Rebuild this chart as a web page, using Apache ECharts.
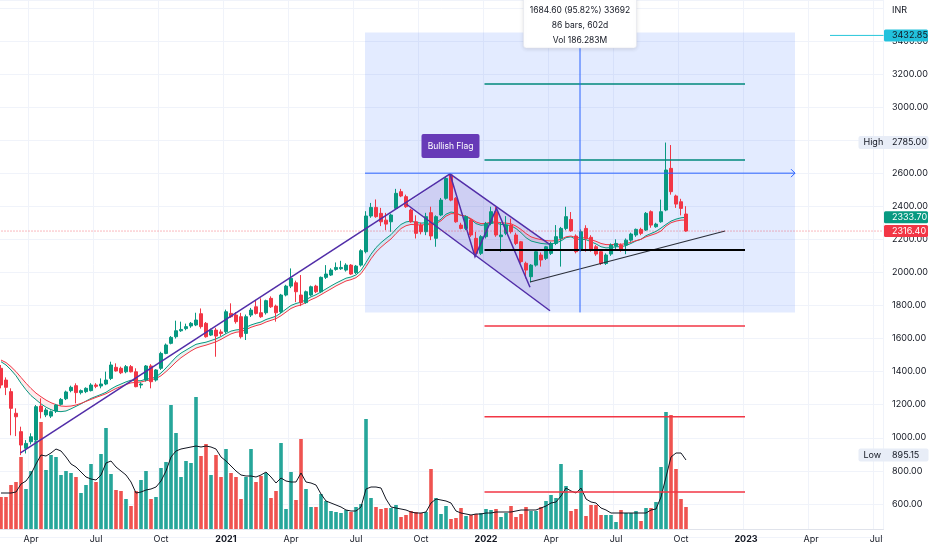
<!DOCTYPE html>
<html><head><meta charset="utf-8">
<script src="https://cdn.jsdelivr.net/npm/echarts@6/dist/echarts.min.js"></script>
<style>html,body{margin:0;padding:0;background:#ffffff}#c{width:932px;height:550px}</style>
</head><body><div id="c"></div>
<script>
// ---------- data ----------
const firstWeek = '2020-02-24';
const weekCount = 177;
const xTickIndex = [6,19,32,45,58,71,84,97,110,123,136,149,162,175];
const xTickLabels = ['Apr','Jul','Oct','2021','Apr','Jul','Oct','2022','Apr','Jul','Oct','2023','Apr','Jul'];

const opens = [1420,1349,1279,1148,1037,936,976,986,1192,1138,
 1131,1162,1202,1236,1285,1315,1273,1279,1285,1319,
 1313,1325,1359,1426,1420,1399,1430,1399,1319,1349,
 1434,1349,1420,1510,1571,1611,1647,1660,1676,1682,
 1750,1692,1621,1651,1640,1641,1752,1742,1732,1631,
 1742,1792,1756,1756,1843,1796,1762,1863,1917,1937,
 1863,1817,1863,1917,1883,1970,1984,2018,2022,2014,
 2044,1998,2044,2125,2341,2393,2357,2316,2306,2387,
 2488,2458,2377,2306,2286,2246,2361,2206,2347,2448,
 2589,2448,2286,2266,2317,2206,2115,2216,2296,2367,
 2216,2236,2286,2226,2185,2055,1974,2044,2105,2085,
 2115,2175,2206,2266,2320,2220,2135,2266,2212,2155,
 2125,2054,2111,2159,2165,2165,2195,2226,2260,2256,
 2367,2276,2306,2377,2629,2462,2427,2353];
const highs = [1440,1365,1299,1178,1067,986,1027,1198,1238,1180,
 1165,1205,1240,1285,1315,1329,1292,1305,1330,1330,
 1359,1400,1460,1450,1430,1440,1440,1420,1335,1440,
 1445,1415,1520,1570,1615,1708,1702,1690,1700,1756,
 1782,1700,1660,1665,1655,1775,1813,1760,1755,1745,
 1785,1833,1843,1835,1855,1805,1870,1925,2024,1950,
 1984,1890,1920,1925,1975,2044,2025,2060,2070,2055,
 2050,2045,2140,2370,2420,2441,2390,2360,2355,2505,
 2505,2470,2385,2345,2300,2360,2397,2345,2450,2580,
 2595,2455,2300,2345,2325,2245,2225,2305,2397,2397,
 2305,2340,2325,2240,2190,2065,2050,2135,2120,2160,
 2185,2286,2275,2397,2365,2230,2260,2285,2225,2165,
 2135,2115,2175,2200,2175,2205,2240,2265,2270,2365,
 2375,2300,2440,2785,2770,2470,2445,2400];
const lows = [1299,1258,1015,1010,895.15,905,960,976,1117,1125,
 1120,1150,1195,1228,1275,1208,1262,1270,1280,1300,
 1299,1318,1349,1400,1385,1390,1395,1305,1299,1340,
 1299,1340,1410,1505,1565,1600,1640,1650,1665,1675,
 1660,1605,1615,1490,1615,1630,1725,1690,1600,1591,
 1730,1745,1725,1745,1785,1702,1752,1855,1905,1820,
 1796,1810,1855,1875,1875,1960,1978,2010,2015,2005,
 1985,1990,2035,2115,2330,2330,2280,2255,2245,2380,
 2455,2390,2300,2205,2230,2225,2195,2155,2340,2440,
 2430,2300,2260,2255,2215,2095,2105,2205,2285,2215,
 2125,2225,2235,2165,2055,1964,1940,2035,2035,2075,
 2105,2165,2035,2255,2245,2115,2125,2125,2125,2100,
 2045,2045,2100,2135,2125,2110,2185,2215,2225,2250,
 2270,2270,2300,2370,2470,2390,2345,2246];
const closes = [1319,1305,1178,1127,956,966,1006,1188,1158,1168,
 1158,1198,1232,1277,1305,1273,1285,1299,1319,1311,
 1325,1349,1440,1404,1393,1430,1399,1309,1325,1434,
 1339,1410,1510,1561,1607,1647,1655,1672,1692,1712,
 1672,1611,1651,1615,1630,1762,1732,1702,1611,1732,
 1772,1752,1732,1829,1792,1756,1863,1917,1964,1883,
 1817,1883,1913,1883,1970,1990,2014,2030,2030,2044,
 1990,2038,2131,2341,2393,2337,2306,2292,2347,2478,
 2462,2397,2306,2236,2246,2337,2220,2337,2437,2568,
 2437,2306,2266,2337,2226,2115,2216,2296,2367,2226,
 2226,2286,2246,2175,2065,2014,2044,2125,2075,2155,
 2175,2216,2266,2337,2252,2125,2246,2206,2135,2111,
 2054,2105,2165,2175,2139,2195,2232,2260,2236,2357,
 2286,2292,2367,2619,2488,2413,2387,2250];
const volumes = [32,32,44,47,72,40,58,88,107,59,
 74,72,54,58,56,52,36,44,65,47,
 75,101,55,39,38,30,23,38,49,58,
 30,32,61,67,124,96,52,68,66,132,
 73,85,54,74,52,80,56,52,30,52,
 80,47,53,56,31,38,86,20,57,29,
 90,40,22,22,35,28,18,17,16,19,
 17,22,25,110,31,22,20,21,21,24,
 12,14,18,17,16,17,60,31,15,23,
 10,11,21,13,14,15,16,20,19,20,
 12,16,23,12,15,22,18,18,22,28,
 34,31,65,43,18,20,59,13,24,24,
 14,14,14,7,19,16,16,18,8,21,
 21,27,62,117,114,60,30,22];
const volumeMA = [36,36,36,37,45,48,55,65,74,73,
 76,80,78,72,65,62,57,52,50,49,
 54,66,68,62,58,54,47,36,37,39,
 40,42,48,58,72,78,80,81,82,83,
 82,83,82,80,72,68,63,58,54,53,
 53,52,54,57,52,46,51,48,47,47,
 56,47,46,44,35,28,26,24,22,19,
 18,18,22,40,42,42,41,30,22,21,
 20,19,17,16,16,17,26,30,29,28,
 26,18,16,15,14,15,15,16,16,17,
 17,17,17,18,19,19,19,19,21,23,
 26,27,33,41,38,36,41,30,27,26,
 21,19,16,16,16,16,16,16,16,16,
 19,20,32,52,72,76,76,69];
const maFast = [1460,1440,1410,1375,1330,1290,1255,1230,1205,1185,
 1170,1160,1158,1162,1175,1190,1205,1222,1238,1250,
 1262,1275,1295,1312,1325,1338,1348,1345,1345,1355,
 1358,1368,1392,1422,1455,1488,1512,1530,1548,1565,
 1572,1578,1588,1598,1612,1630,1645,1652,1655,1668,
 1682,1692,1700,1715,1725,1735,1755,1778,1800,1812,
 1820,1835,1852,1865,1882,1900,1918,1935,1950,1965,
 1972,1985,2012,2060,2110,2150,2180,2205,2228,2262,
 2290,2305,2310,2302,2298,2300,2295,2302,2322,2352,
 2365,2360,2345,2338,2320,2295,2285,2288,2300,2298,
 2290,2288,2282,2265,2240,2210,2190,2182,2175,2172,
 2172,2178,2190,2210,2215,2200,2200,2198,2185,2172,
 2155,2148,2150,2155,2155,2162,2175,2190,2200,2222,
 2235,2248,2268,2290,2310,2322,2330,2333.7];
const maSlow = [1470,1455,1430,1400,1365,1330,1298,1270,1248,1228,
 1212,1200,1192,1190,1192,1198,1208,1220,1232,1244,
 1255,1266,1282,1298,1310,1322,1332,1335,1337,1345,
 1350,1358,1375,1400,1428,1458,1484,1505,1525,1542,
 1552,1560,1570,1580,1595,1612,1628,1638,1642,1654,
 1668,1678,1686,1700,1710,1720,1738,1760,1782,1795,
 1803,1818,1835,1848,1865,1883,1900,1918,1933,1948,
 1956,1968,1992,2035,2082,2122,2152,2178,2202,2235,
 2265,2282,2290,2288,2286,2290,2288,2295,2312,2340,
 2355,2355,2345,2340,2325,2305,2295,2296,2305,2305,
 2300,2298,2294,2280,2260,2235,2215,2205,2198,2192,
 2190,2192,2200,2215,2220,2210,2210,2208,2198,2188,
 2175,2168,2168,2170,2170,2174,2182,2192,2200,2215,
 2225,2235,2250,2280,2300,2310,2316,2316.4];

// drawings (x in week index, y in price)
const measureBox = [72.8, 1758, 158.8, 3450];
const crossX = 115.8, crossY = 2600;
const measureText = ['1684.60 (95.82%) 33692', '86 bars, 602d', 'Vol 186.283M'];
const flagPole = [[3.9, 908], [89.8, 2595]];
const flagUpper = [[89.8, 2595], [109.8, 2168]];
const flagLower = [[81.1, 2412], [109.8, 1768]];
const flagFill = [[81.1, 2412], [89.8, 2595], [109.8, 2168], [109.8, 1768]];
const flagZigzag = [[89.8, 2595], [94.8, 2095], [99.1, 2387], [105.8, 1910]];
const supportLine = [[105.8, 1942], [144.8, 2250]];
const levelStart = 96.7, levelEnd = 148.8;
const tealLevels = [3139, 2680];
const blackLevel = 2135;
const redLevels = [1676, 1127, 672];
const flagLabel = {x: 89.9, y: 2764, text: 'Bullish Flag'};
const cyanLevel = {x: 165.8, y: 3432.85, text: '3432.85'};
const highTag = {y: 2785, text: '2785.00'};
const lowTag = {y: 895.15, text: '895.15'};
const fastTag = '2333.70';
const slowTag = '2316.40';
const currency = 'INR';

// ---------- build ----------
const cats = [];
const d0 = new Date(firstWeek + 'T00:00:00Z');
for (let i = 0; i < weekCount; i++) cats.push(new Date(d0.getTime() + i * 7 * 86400000).toISOString().slice(0, 10));
const candleData = opens.map((o, i) => [o, closes[i], lows[i], highs[i]]);
const UP = '#089981', DOWN = '#f23645', VUP = '#26a69a', VDOWN = '#ef5350';
const volData = volumes.map((v, i) => ({value: v, itemStyle: {color: closes[i] >= opens[i] ? VUP : VDOWN}}));
const lastClose = closes[closes.length - 1];
const FONT = 'Inter, Roboto, sans-serif';
const TXT = '#131722';
const FS = 9;
const X_MIN = -0.5, X_MAX = weekCount - 0.5;

function bgRender(params, api) {
  const a = api.coord([measureBox[0], measureBox[3]]);
  const b = api.coord([measureBox[2], measureBox[1]]);
  const ch = [
    {type: 'rect', shape: {x: a[0], y: a[1], width: b[0] - a[0], height: b[1] - a[1]}, style: {fill: 'rgba(41,98,255,0.13)'}},
    {type: 'polygon', shape: {points: flagFill.map(p => api.coord(p))}, style: {fill: 'rgba(81,45,168,0.14)'}}
  ];
  // fill between the two moving averages
  for (let i = 0; i < maFast.length - 1; i++) {
    const pts = [api.coord([i, maFast[i]]), api.coord([i + 1, maFast[i + 1]]), api.coord([i + 1, maSlow[i + 1]]), api.coord([i, maSlow[i]])];
    const down = maSlow[i] + maSlow[i + 1] > maFast[i] + maFast[i + 1];
    ch.push({type: 'polygon', shape: {points: pts}, style: {fill: down ? 'rgba(242,54,69,0.10)' : 'rgba(8,153,129,0.10)'}});
  }
  return {type: 'group', children: ch};
}

function seg(api, p, q, stroke, lw, dash) {
  const a = api.coord(p), b = api.coord(q);
  return {type: 'line', shape: {x1: a[0], y1: a[1], x2: b[0], y2: b[1]}, style: {stroke: stroke, lineWidth: lw, lineDash: dash || null}};
}
function tag(x, y, w, text, bg, fg) {
  return [{type: 'rect', shape: {x: x, y: y - 6, width: w, height: 12, r: 1.5}, style: {fill: bg}},
    {type: 'text', style: {text: text, x: x + 8, y: y, fill: fg, font: FS + 'px ' + FONT, verticalAlign: 'middle', align: 'left'}}];
}

function fgRender(params, api) {
  const ch = [];
  const purple = '#512da8';
  ch.push(seg(api, flagPole[0], flagPole[1], purple, 1.5));
  ch.push(seg(api, flagUpper[0], flagUpper[1], purple, 1.5));
  ch.push(seg(api, flagLower[0], flagLower[1], purple, 1.5));
  ch.push({type: 'polyline', shape: {points: flagZigzag.map(p => api.coord(p))}, style: {stroke: purple, lineWidth: 1.5, fill: null}});
  ch.push(seg(api, supportLine[0], supportLine[1], '#2a2e39', 1.2));
  ch.push(seg(api, [levelStart, blackLevel], [levelEnd, blackLevel], '#000000', 2));
  tealLevels.forEach(v => ch.push(seg(api, [levelStart, v], [levelEnd, v], '#00897b', 1.5)));
  redLevels.forEach(v => ch.push(seg(api, [levelStart, v], [levelEnd, v], '#f23645', 1.5)));
  // measure crosshair
  const top = api.coord([crossX, 3647]);
  const bot = api.coord([crossX, measureBox[1]]);
  ch.push({type: 'line', shape: {x1: top[0], y1: 48, x2: bot[0], y2: bot[1]}, style: {stroke: '#2962ff', lineWidth: 1}});
  const hl = api.coord([measureBox[0], crossY]), hr = api.coord([measureBox[2], crossY]);
  ch.push({type: 'line', shape: {x1: hl[0], y1: hl[1], x2: hr[0], y2: hr[1]}, style: {stroke: '#2962ff', lineWidth: 1}});
  ch.push({type: 'polyline', shape: {points: [[hr[0] - 4, hr[1] - 4], [hr[0], hr[1]], [hr[0] - 4, hr[1] + 4]]}, style: {stroke: '#2962ff', lineWidth: 1, fill: null}});
  // measure info box
  ch.push({type: 'rect', shape: {x: top[0] - 56.5, y: -3, width: 113, height: 51, r: 3}, style: {fill: '#ffffff', stroke: '#e0e3eb', lineWidth: 0.5, shadowBlur: 4, shadowColor: 'rgba(0,0,0,0.12)', shadowOffsetY: 1}});
  measureText.forEach((t, i) => ch.push({type: 'text', style: {text: t, x: top[0], y: 10 + i * 15, fill: TXT, font: '8.5px ' + FONT, align: 'center', verticalAlign: 'middle'}}));
  // bullish flag label
  const fl = api.coord([flagLabel.x, flagLabel.y]);
  ch.push({type: 'rect', shape: {x: fl[0] - 29, y: fl[1] - 12, width: 58, height: 24, r: 2}, style: {fill: '#673ab7'}});
  ch.push({type: 'text', style: {text: flagLabel.text, x: fl[0], y: fl[1], fill: '#ffffff', font: '8.5px ' + FONT, align: 'center', verticalAlign: 'middle'}});
  // right side tags
  const right = api.coord([X_MAX, 1000])[0];
  const cy = api.coord([cyanLevel.x, cyanLevel.y]);
  ch.push({type: 'line', shape: {x1: cy[0], y1: cy[1], x2: right, y2: cy[1]}, style: {stroke: '#26c6da', lineWidth: 1}});
  ch.push(...tag(right + 0.5, cy[1], 44, cyanLevel.text, '#22c1dc', TXT));
  const lp = api.coord([X_MIN, lastClose]);
  ch.push({type: 'line', shape: {x1: lp[0], y1: lp[1], x2: right, y2: lp[1]}, style: {stroke: '#f23645', lineWidth: 1, lineDash: [1, 2], opacity: 0.7}});
  const hy = api.coord([X_MAX, highTag.y])[1];
  ch.push({type: 'rect', shape: {x: right - 25, y: hy - 6.5, width: 70, height: 13, r: 2}, style: {fill: '#e8edf7'}});
  ch.push({type: 'text', style: {text: 'High', x: right - 20, y: hy, fill: TXT, font: FS + 'px ' + FONT, verticalAlign: 'middle'}});
  ch.push({type: 'text', style: {text: highTag.text, x: right + 8.5, y: hy, fill: TXT, font: FS + 'px ' + FONT, verticalAlign: 'middle'}});
  const ly = api.coord([X_MAX, lowTag.y])[1];
  ch.push({type: 'rect', shape: {x: right - 25, y: ly - 6.5, width: 70, height: 13, r: 2}, style: {fill: '#e8edf7'}});
  ch.push({type: 'text', style: {text: 'Low', x: right - 20, y: ly, fill: TXT, font: FS + 'px ' + FONT, verticalAlign: 'middle'}});
  ch.push({type: 'text', style: {text: lowTag.text, x: right + 8.5, y: ly, fill: TXT, font: FS + 'px ' + FONT, verticalAlign: 'middle'}});
  const gy = api.coord([X_MAX, maFast[maFast.length - 1]])[1];
  ch.push(...tag(right + 0.5, gy, 44, fastTag, UP, '#ffffff'));
  ch.push(...tag(right + 0.5, lp[1], 44, slowTag, DOWN, '#ffffff'));
  ch.push({type: 'text', style: {text: currency, x: right + 8.5, y: 10, fill: TXT, font: FS + 'px ' + FONT, verticalAlign: 'middle'}});
  return {type: 'group', children: ch};
}

const chart = echarts.init(document.getElementById('c'), null, {renderer: 'canvas'});
const gridCommon = {left: -1.5, width: weekCount * 5, top: 0, outerBoundsMode: 'none', containLabel: false};
chart.setOption({
  animation: false,
  backgroundColor: '#ffffff',
  textStyle: {fontFamily: FONT},
  grid: [Object.assign({height: 537}, gridCommon), Object.assign({height: 529}, gridCommon)],
  xAxis: [
    {type: 'category', gridIndex: 0, data: cats, boundaryGap: true, axisLine: {show: false}, axisTick: {show: false}, axisLabel: {show: false}, splitLine: {show: false}},
    {type: 'category', gridIndex: 1, data: cats, boundaryGap: true,
      axisLine: {show: true, lineStyle: {color: '#e0e3eb'}}, axisTick: {show: false},
      axisLabel: {interval: (i) => xTickIndex.indexOf(i) >= 0, margin: 6, color: TXT, fontSize: FS, fontFamily: FONT,
        formatter: (v, i) => { const k = xTickIndex.indexOf(i); if (k < 0) return ''; const t = xTickLabels[k]; return /^\d{4}$/.test(t) ? '{y|' + t + '}' : t; },
        rich: {y: {fontWeight: 'bold', fontSize: FS, color: TXT, fontFamily: FONT}}},
      splitLine: {show: true, interval: (i) => xTickIndex.indexOf(i) >= 0, lineStyle: {color: '#f0f3fa', width: 1}}},
    {type: 'value', gridIndex: 0, min: X_MIN, max: X_MAX, show: false}
  ],
  yAxis: [
    {type: 'value', gridIndex: 0, position: 'right', min: 400, max: 3647, interval: 200, scale: true,
      axisLine: {show: false}, axisTick: {show: false},
      axisLabel: {margin: 8.5, color: TXT, fontSize: FS, fontFamily: FONT, formatter: v => (v < 500 || v > 3500) ? '' : v.toFixed(2)},
      splitLine: {show: true, lineStyle: {color: '#f0f3fa', width: 1}}},
    {type: 'value', gridIndex: 1, min: 0, max: 529, show: false}
  ],
  series: [
    {type: 'custom', name: 'zones', xAxisIndex: 2, yAxisIndex: 0, data: [[0, 1000]], renderItem: bgRender, z: 1, silent: true, clip: false},
    {type: 'bar', name: 'Volume', xAxisIndex: 1, yAxisIndex: 1, data: volData, barWidth: '72%', z: 2, silent: true},
    {type: 'line', name: 'Vol MA', xAxisIndex: 1, yAxisIndex: 1, data: volumeMA, symbol: 'none', lineStyle: {color: '#131722', width: 1}, z: 3, silent: true},
    {type: 'line', name: 'MA fast', xAxisIndex: 0, yAxisIndex: 0, data: maFast, symbol: 'none', lineStyle: {color: '#089981', width: 1}, z: 4, silent: true},
    {type: 'line', name: 'MA slow', xAxisIndex: 0, yAxisIndex: 0, data: maSlow, symbol: 'none', lineStyle: {color: '#f23645', width: 1}, z: 4, silent: true},
    {type: 'candlestick', name: 'Price', xAxisIndex: 0, yAxisIndex: 0, data: candleData, barWidth: '62%', z: 5, silent: true,
      itemStyle: {color: UP, color0: DOWN, borderColor: UP, borderColor0: DOWN, borderWidth: 1}},
    {type: 'custom', name: 'drawings', xAxisIndex: 2, yAxisIndex: 0, data: [[0, 1000]], renderItem: fgRender, z: 10, silent: true, clip: false}
  ]
});
</script>
</body></html>
